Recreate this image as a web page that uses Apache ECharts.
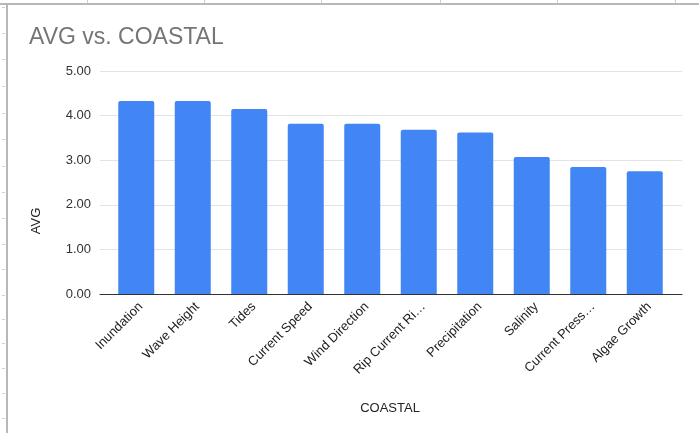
<!DOCTYPE html>
<html>
<head>
<meta charset="utf-8">
<script src="https://cdn.jsdelivr.net/npm/echarts@6/dist/echarts.min.js"></script>
<style>
html,body{margin:0;padding:0;background:#fff;}
#c{width:699px;height:433px;}
</style>
</head>
<body>
<div id="c"></div>
<script>
var categories = ["Inundation","Wave Height","Tides","Current Speed","Wind Direction","Rip Current Ri\u2026","Precipitation","Salinity","Current Press\u2026","Algae Growth"];
var avgValues = [4.33, 4.33, 4.15, 3.82, 3.82, 3.68, 3.62, 3.07, 2.85, 2.75];
var yTicks = [0, 1, 2, 3, 4, 5];
var titleText = "AVG vs. COASTAL";
var xTitle = "COASTAL";
var yTitle = "AVG";

var FONT = 'Arial, "Liberation Sans", sans-serif';
var chart = echarts.init(document.getElementById('c'), null, {renderer:'canvas'});

// spreadsheet frame decorations
var deco = [];
deco.push({type:'line', shape:{x1:0,y1:4,x2:699,y2:4}, style:{stroke:'#b8b8b8', lineWidth:2}, z:10});
deco.push({type:'line', shape:{x1:7,y1:4,x2:7,y2:433}, style:{stroke:'#b8b8b8', lineWidth:2}, z:10});
[87,204,321,440,557,675].forEach(function(x){
  deco.push({type:'line', shape:{x1:x+0.5,y1:0,x2:x+0.5,y2:3}, style:{stroke:'#d0d0d0', lineWidth:1}, z:10});
});
[7,33,59,86,113,139,166,192,218,244,269,295,319,343,368,393,418].forEach(function(y){
  deco.push({type:'line', shape:{x1:2,y1:y+0.5,x2:5,y2:y+0.5}, style:{stroke:'#d0d0d0', lineWidth:1}, z:10});
});
deco.push({type:'text', x:29, y:38, style:{text:titleText, fill:'#757575', font:'23px ' + FONT, verticalAlign:'middle', align:'left'}});
deco.push({type:'text', x:390, y:408, style:{text:xTitle, fill:'#222', font:'13px ' + FONT, verticalAlign:'middle', align:'center'}});
deco.push({type:'text', x:36, y:221, rotation:Math.PI/2, style:{text:yTitle, fill:'#222', font:'13px ' + FONT, verticalAlign:'middle', align:'center'}});

var option = {
  animation:false,
  backgroundColor:'#fff',
  textStyle:{fontFamily:FONT},
  grid:[
    {left:100, right:17, top:71, bottom:139},
    {left:108, right:26, top:71, bottom:139}
  ],
  xAxis:[
    {gridIndex:0, type:'value', min:0, max:1, axisLine:{show:true, onZero:false, lineStyle:{color:'#333', width:1}}, axisTick:{show:false}, axisLabel:{show:false}, splitLine:{show:false}},
    {gridIndex:1, type:'category', data:categories, axisLine:{show:false}, axisTick:{show:false},
     axisLabel:{rotate:45, interval:0, margin:6, verticalAlign:'top', color:'#222', fontSize:13, fontFamily:FONT}}
  ],
  yAxis:[
    {gridIndex:0, type:'value', min:yTicks[0], max:yTicks[yTicks.length-1], interval:1,
     axisLine:{show:false}, axisTick:{show:false},
     axisLabel:{margin:9, color:'#333', fontSize:13, fontFamily:FONT, formatter:function(v){return v.toFixed(2);}},
     splitLine:{show:true, lineStyle:{color:'#e3e3e3', width:1}}},
    {gridIndex:1, type:'value', min:yTicks[0], max:yTicks[yTicks.length-1], interval:1, show:false, splitLine:{show:false}}
  ],
  series:[
    {type:'bar', xAxisIndex:1, yAxisIndex:1, data:avgValues, barWidth:36,
     itemStyle:{color:'#4285f4', borderRadius:[2,2,0,0]}}
  ],
  graphic:deco
};
chart.setOption(option);
</script>
</body>
</html>
